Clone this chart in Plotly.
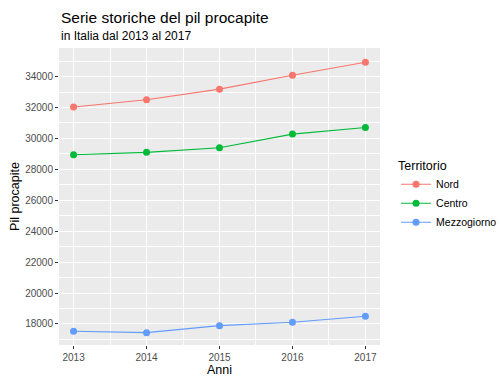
import plotly.graph_objects as go

anni = [2013, 2014, 2015, 2016, 2017]
nord = [32030, 32500, 33190, 34090, 34930]
centro = [28950, 29100, 29400, 30280, 30710]
mezzogiorno = [17530, 17440, 17890, 18110, 18500]
serie_nomi = ["Nord", "Centro", "Mezzogiorno"]
serie_colori = ["#F8766D", "#00BA38", "#619CFF"]
y_ticks = [18000, 20000, 22000, 24000, 26000, 28000, 30000, 32000, 34000]

FONT = "Liberation Sans, Arial, sans-serif"
fig = go.Figure()
for nome, vals, col in zip(serie_nomi, [nord, centro, mezzogiorno], serie_colori):
    fig.add_trace(go.Scatter(x=anni, y=vals, name=nome, mode="lines+markers",
                             line=dict(color=col, width=1.1),
                             marker=dict(color=col, size=7)))

fig.update_layout(
    width=500, height=385,
    margin=dict(l=59, r=120, t=48, b=40, autoexpand=False),
    paper_bgcolor="white", plot_bgcolor="#EBEBEB",
    font=dict(family=FONT, color="#000000"),
    showlegend=True,
    legend=dict(x=1.05, y=0.645, xanchor="left", yanchor="top",
                title=dict(text="Territorio", font=dict(size=12.5, color="#000")),
                font=dict(size=10.5, color="#000"), bgcolor="rgba(0,0,0,0)",
                itemwidth=30, tracegroupgap=2),
    annotations=[
        dict(text="Serie storiche del pil procapite", x=0, y=1, xref="paper", yref="paper",
             xanchor="left", yanchor="bottom", yshift=20, showarrow=False,
             font=dict(size=15.5, color="#000", family=FONT)),
        dict(text="in Italia dal 2013 al 2017", x=0, y=1, xref="paper", yref="paper",
             xanchor="left", yanchor="bottom", yshift=3, showarrow=False,
             font=dict(size=12, color="#000", family=FONT)),
    ],
)
fig.update_xaxes(range=[2012.8, 2017.2], tickvals=anni, ticktext=[str(a) for a in anni],
                 automargin=False,
                 showgrid=True, gridcolor="white", gridwidth=1.1,
                 minor=dict(tickvals=[2013.5, 2014.5, 2015.5, 2016.5], showgrid=True,
                            gridcolor="white", gridwidth=0.5, ticks=""),
                 ticks="outside", ticklen=3, tickcolor="#333333", tickwidth=1,
                 tickfont=dict(size=10, color="#4D4D4D"), zeroline=False,
                 title=dict(text="Anni", font=dict(size=12.5, color="#000"), standoff=0))
fig.update_yaxes(range=[16640, 35850], tickvals=y_ticks, ticktext=[str(t) for t in y_ticks],
                 automargin=False,
                 showgrid=True, gridcolor="white", gridwidth=1.1,
                 minor=dict(tickvals=[t + 1000 for t in y_ticks] + [17000], showgrid=True,
                            gridcolor="white", gridwidth=0.5, ticks=""),
                 ticks="outside", ticklen=3, tickcolor="#333333", tickwidth=1,
                 tickfont=dict(size=10, color="#4D4D4D"), zeroline=False,
                 title=dict(text="Pil procapite", font=dict(size=12.5, color="#000"), standoff=2))

fig.write_html("out.html", post_script="document.body.style.margin='0px';",
               config={"displayModeBar": False})
